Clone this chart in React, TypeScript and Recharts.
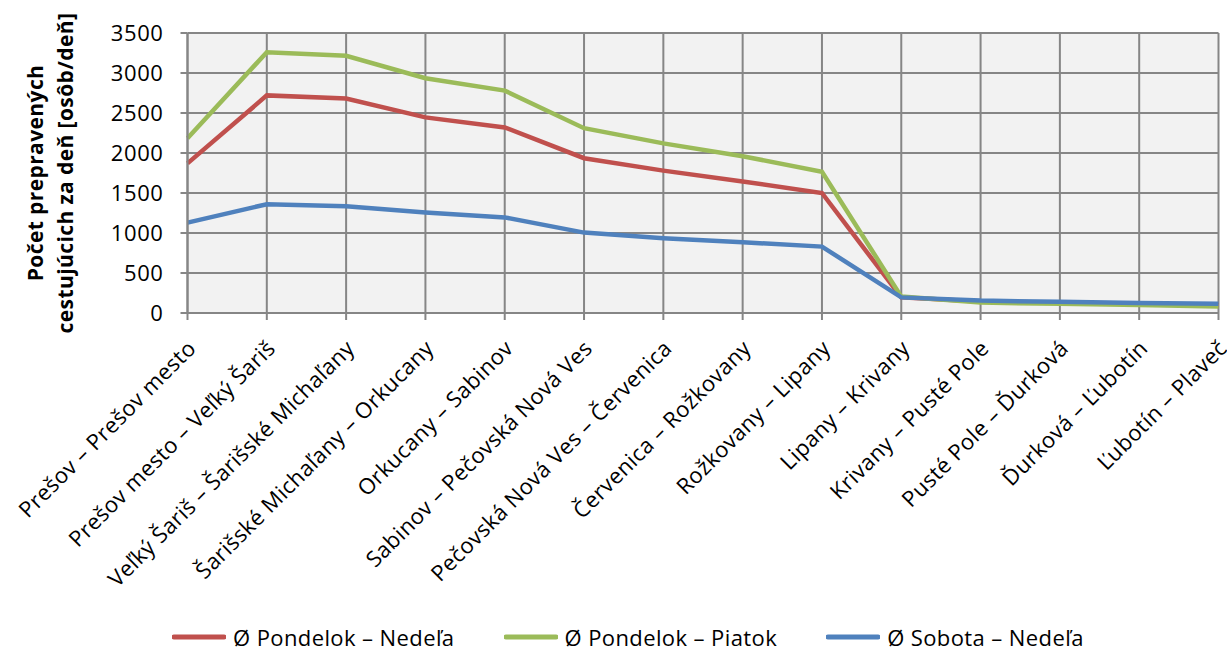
import React from "react";
import { LineChart, Line, XAxis, YAxis, CartesianGrid, Legend, Label } from "recharts";

// Úseky trate Prešov – Plaveč
const categories = [
  "Prešov – Prešov mesto",
  "Prešov mesto – Veľký Šariš",
  "Veľký Šariš – Šarišské Michaľany",
  "Šarišské Michaľany – Orkucany",
  "Orkucany – Sabinov",
  "Sabinov – Pečovská Nová Ves",
  "Pečovská Nová Ves – Červenica",
  "Červenica – Rožkovany",
  "Rožkovany – Lipany",
  "Lipany – Krivany",
  "Krivany – Pusté Pole",
  "Pusté Pole – Ďurková",
  "Ďurková – Ľubotín",
  "Ľubotín – Plaveč",
];

// Priemerný počet cestujúcich za deň
const pondelokNedela = [1870, 2720, 2680, 2445, 2320, 1935, 1780, 1645, 1500, 195, 145, 128, 112, 98];
const pondelokPiatok = [2185, 3260, 3215, 2935, 2780, 2310, 2120, 1960, 1765, 205, 130, 115, 100, 80];
const sobotaNedela = [1130, 1360, 1335, 1255, 1195, 1005, 935, 885, 830, 195, 155, 140, 125, 115];

const yTicks = [0, 500, 1000, 1500, 2000, 2500, 3000, 3500];
const yTitle = ["Počet prepravených", "cestujúcich za deň [osôb/deň]"];

const series = [
  { key: "pn", name: "Ø Pondelok – Nedeľa", color: "#C0504D", values: pondelokNedela },
  { key: "pp", name: "Ø Pondelok – Piatok", color: "#9BBB59", values: pondelokPiatok },
  { key: "sn", name: "Ø Sobota – Nedeľa", color: "#4F81BD", values: sobotaNedela },
];

const data = categories.map((c, i) => {
  const row: Record<string, string | number> = { name: c };
  series.forEach((s) => {
    row[s.key] = s.values[i];
  });
  return row;
});

const FONT = "'Open Sans', Lato, sans-serif";
const GRID = "#868686";

const CategoryTick = (props: any) => {
  const { x, y, payload } = props;
  return (
    <text
      transform={`translate(${x + 2},${y + 20}) rotate(-45)`}
      textAnchor="end"
      dy="0.5em"
      fontFamily={FONT}
      fontSize={22}
      letterSpacing={0.4}
      fill="#000"
    >
      {payload.value}
    </text>
  );
};

const YTitle = (props: any) => {
  const vb = props.viewBox || {};
  const cy = (vb.y ?? 33) + (vb.height ?? 280) / 2;
  const xs = [43, 73];
  return (
    <g>
      {yTitle.map((t, i) => (
        <text
          key={i}
          transform={`translate(${xs[i]},${cy}) rotate(-90)`}
          textAnchor="middle"
          fontFamily={FONT}
          fontWeight="bold"
          fontSize={21}
          letterSpacing={0.4}
          fill="#000"
        >
          {t}
        </text>
      ))}
    </g>
  );
};

const LegendContent = () => (
  <div
    style={{
      display: "flex",
      alignItems: "center",
      height: 28,
      paddingLeft: 172,
      fontFamily: FONT,
      fontSize: 22,
      letterSpacing: 0.4,
      color: "#000",
      gap: 49,
    }}
  >
    {series.map((s) => (
      <div key={s.key} style={{ display: "flex", alignItems: "center" }}>
        <svg width={54} height={8} style={{ marginRight: 7 }}>
          <line x1={2} y1={4} x2={52} y2={4} stroke={s.color} strokeWidth={5} strokeLinecap="round" />
        </svg>
        <span style={{ whiteSpace: "nowrap" }}>{s.name}</span>
      </div>
    ))}
  </div>
);

export default function App() {
  return (
    <div style={{ position: "absolute", left: 0, top: 0, width: 1227, height: 651, background: "#fff" }}>
      <LineChart
        width={1227}
        height={651}
        data={data}
        margin={{ top: 33, right: 8.5, bottom: 0, left: 0 }}
      >
        <CartesianGrid fill="#F2F2F2" stroke={GRID} strokeWidth={2} />
        <XAxis
          dataKey="name"
          interval={0}
          height={310}
          tick={<CategoryTick />}
          tickSize={7}
          tickMargin={2}
          axisLine={{ stroke: GRID, strokeWidth: 2 }}
          tickLine={{ stroke: GRID, strokeWidth: 2 }}
        />
        <YAxis
          width={187.5}
          domain={[0, 3500]}
          ticks={yTicks}
          interval={0}
          tickSize={7}
          tickMargin={17}
          axisLine={{ stroke: GRID, strokeWidth: 2 }}
          tickLine={{ stroke: GRID, strokeWidth: 2 }}
          tick={{ fontFamily: FONT, fontSize: 22, letterSpacing: 0.6, fill: "#000" }}
        >
          <Label content={<YTitle />} />
        </YAxis>
        <Legend
          verticalAlign="bottom"
          content={<LegendContent />}
          wrapperStyle={{ left: 0, width: 1227, height: 28, bottom: 0 }}
        />
        {series.map((s) => (
          <Line
            key={s.key}
            type="linear"
            dataKey={s.key}
            name={s.name}
            stroke={s.color}
            strokeWidth={4.5}
            dot={false}
            activeDot={false}
            isAnimationActive={false}
          />
        ))}
      </LineChart>
    </div>
  );
}
